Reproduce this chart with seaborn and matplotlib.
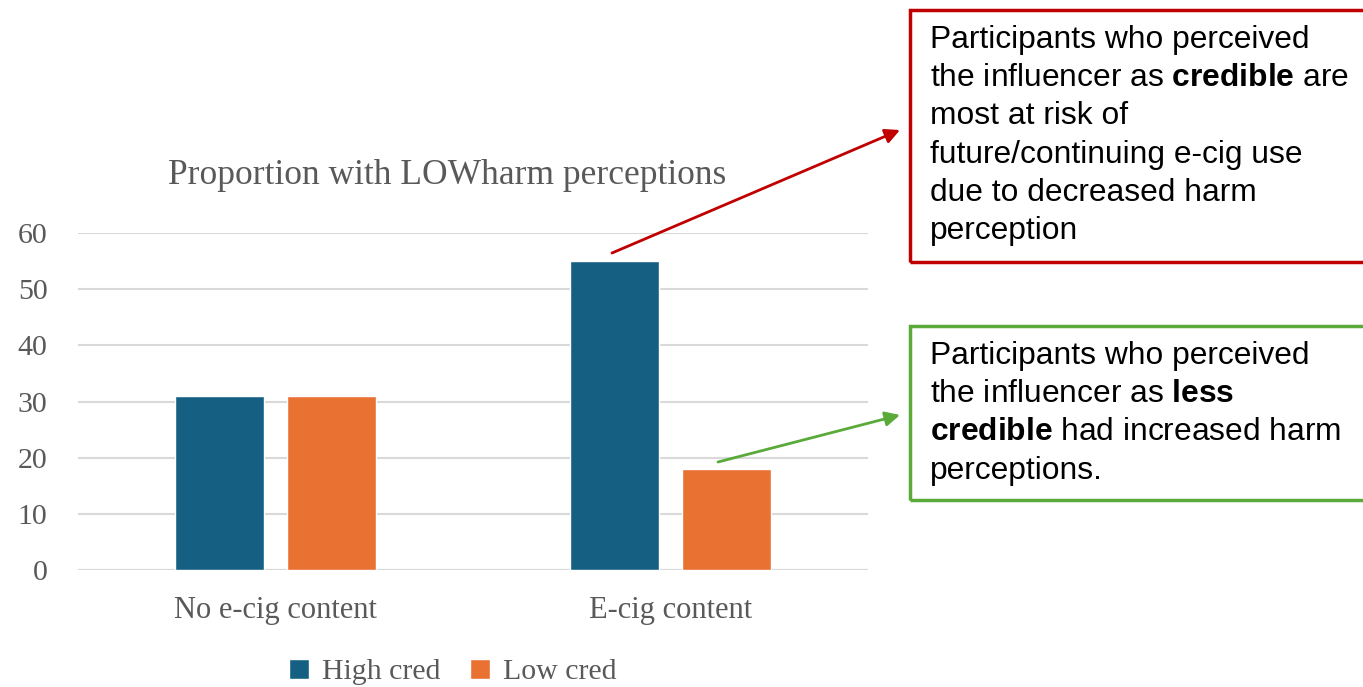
import numpy as np
import pandas as pd
import matplotlib.pyplot as plt
import seaborn as sns
from matplotlib.patches import Rectangle

categories = ["No e-cig content", "E-cig content"]
groups = ["High cred", "Low cred"]
high_cred = [31, 55]
low_cred = [31, 18]
colors = ["#156082", "#E97132"]

df = pd.DataFrame({
    "content": categories * 2,
    "group": [groups[0]] * 2 + [groups[1]] * 2,
    "value": high_cred + low_cred,
})

sns.set_theme(style="white")
plt.rcParams["font.family"] = ["Liberation Serif", "DejaVu Serif"]
plt.rcParams["mathtext.fontset"] = "custom"
plt.rcParams["mathtext.rm"] = "Liberation Sans"
plt.rcParams["mathtext.bf"] = "Liberation Sans:bold"

W, H = 1363, 687
fig = plt.figure(figsize=(W / 100, H / 100), dpi=100)
ax = fig.add_axes([78 / W, 1 - 570 / H, 790 / W, 337 / H])

sns.barplot(data=df, x="content", y="value", hue="group", palette=colors,
            width=0.567, gap=0.205, ax=ax, legend=True, saturation=1)

grey = "#595959"
ax.set_ylim(0, 60)
ax.set_xlim(-0.5, 1.5)
ax.set_yticks(range(0, 61, 10))
ax.yaxis.grid(True, color="#d9d9d9", linewidth=1.5)
ax.set_axisbelow(True)
for s in ax.spines.values():
    s.set_visible(False)
ax.set_xlabel("")
ax.set_ylabel("")
ax.tick_params(axis="both", length=0, labelcolor=grey)
ax.tick_params(axis="x", pad=19, labelsize=22)
ax.tick_params(axis="y", pad=22, labelsize=21.5)
ax.axhline(0, color="#d9d9d9", linewidth=1.5, zorder=0)

fig.text(447 / W, 1 - 176 / H, "Proportion with LOWharm perceptions",
         ha="center", va="center", fontsize=25.5, color=grey)

handles, labels = ax.get_legend_handles_labels()
ax.get_legend().remove()
fig.legend(handles, labels, loc="center", bbox_to_anchor=(453 / W, 1 - 672 / H),
           ncol=2, frameon=False, fontsize=21.5, labelcolor=grey,
           handlelength=0.65, handleheight=0.65, handletextpad=0.45,
           columnspacing=1.0)

# callout boxes
red = "#C00000"
green = "#5AAA3A"
fig.patches.append(Rectangle((910 / W, 1 - 262 / H), 460 / W, 252 / H,
                             transform=fig.transFigure, fill=False,
                             edgecolor=red, linewidth=2.5, zorder=5))
fig.patches.append(Rectangle((910 / W, 1 - 500 / H), 460 / W, 174 / H,
                             transform=fig.transFigure, fill=False,
                             edgecolor=green, linewidth=2.5, zorder=5))

red_lines = [
    "Participants who perceived",
    r"the influencer as $\mathbf{credible}$ are",
    "most at risk of",
    "future/continuing e-cig use",
    "due to decreased harm",
    "perception",
]
green_lines = [
    "Participants who perceived",
    r"the influencer as $\mathbf{less}$",
    r"$\mathbf{credible}$ had increased harm",
    "perceptions.",
]
for i, line in enumerate(red_lines):
    fig.text(930 / W, 1 - (40 + 38.2 * i) / H, line, ha="left", va="center",
             fontsize=22.9, color="black", family="Liberation Sans")
for i, line in enumerate(green_lines):
    fig.text(930 / W, 1 - (356 + 38.2 * i) / H, line, ha="left", va="center",
             fontsize=22.9, color="black", family="Liberation Sans")

ax.annotate("", xy=(900 / W, 1 - 130 / H), xycoords="figure fraction",
            xytext=(612 / W, 1 - 253 / H), textcoords="figure fraction",
            arrowprops=dict(arrowstyle="-|>", color=red, lw=2,
                            mutation_scale=22, shrinkA=0, shrinkB=0))
ax.annotate("", xy=(900 / W, 1 - 415 / H), xycoords="figure fraction",
            xytext=(718 / W, 1 - 462 / H), textcoords="figure fraction",
            arrowprops=dict(arrowstyle="-|>", color=green, lw=2,
                            mutation_scale=22, shrinkA=0, shrinkB=0))

fig.savefig("out.png", dpi=100)
